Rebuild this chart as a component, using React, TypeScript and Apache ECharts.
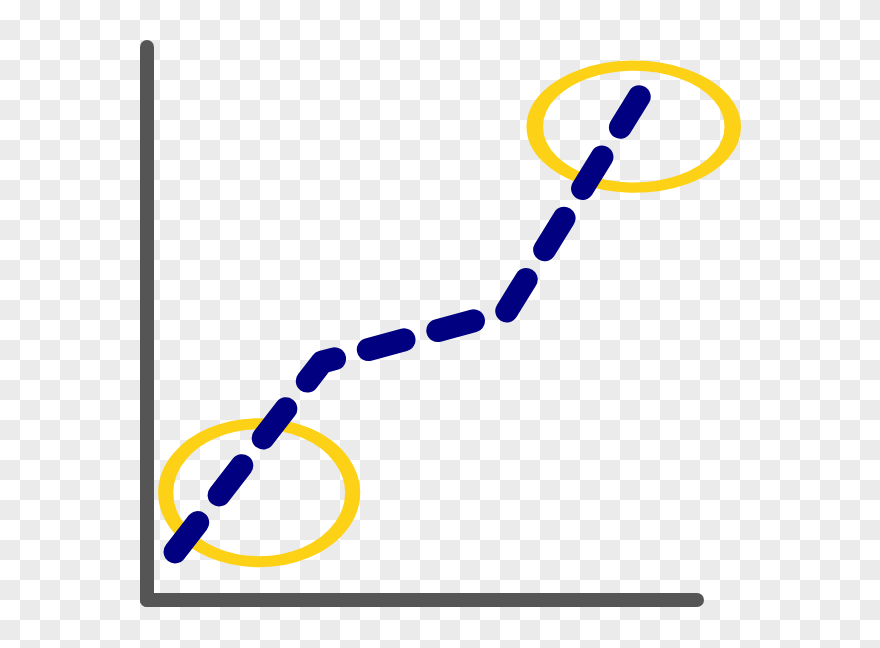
import React, { useEffect, useRef } from "react";
import * as echarts from "echarts";

// trend line, in axis units (0..100 on both axes)
const lineX = [5.1, 31.8, 65.3, 89.5];
const lineY = [8.7, 43.0, 52.1, 91.0];

// highlighted regions (ellipse centres, axis units)
const markX = [20.4, 88.5];
const markY = [19.4, 85.6];
const markSize = [
  [187, 138],
  [198, 122],
];

const App: React.FC = () => {
  const chartRef = useRef<HTMLDivElement>(null);

  useEffect(() => {
    if (!chartRef.current) return;
    const chart = echarts.init(chartRef.current, null, { renderer: "svg" });

    const axisLine = {
      show: true,
      onZero: false,
      lineStyle: { color: "#555555", width: 14, cap: "round" },
    };

    chart.setOption({
      animation: false,
      grid: { left: 147, right: 183, top: 47, bottom: 48 },
      xAxis: {
        type: "value",
        min: 0,
        max: 100,
        axisLine,
        axisTick: { show: false },
        axisLabel: { show: false },
        splitLine: { show: false },
      },
      yAxis: {
        type: "value",
        min: 0,
        max: 100,
        axisLine,
        axisTick: { show: false },
        axisLabel: { show: false },
        splitLine: { show: false },
      },
      series: [
        {
          type: "line",
          data: lineX.map((x, i) => [x, lineY[i]]),
          showSymbol: false,
          lineStyle: {
            color: "#000080",
            width: 23,
            type: [37, 35],
            cap: "round",
            join: "round",
          },
        },
        {
          type: "scatter",
          data: markX.map((x, i) => ({
            value: [x, markY[i]],
            symbolSize: markSize[i],
          })),
          symbol: "circle",
          itemStyle: {
            color: "rgba(0,0,0,0)",
            borderColor: "#fdd116",
            borderWidth: 13,
            opacity: 1,
          },
        },
      ],
    });

    return () => chart.dispose();
  }, []);

  return (
    <div
      ref={chartRef}
      style={{
        position: "absolute",
        left: 0,
        top: 0,
        width: 880,
        height: 648,
        background:
          "repeating-conic-gradient(#ebebeb 0 25%, #ffffff 0 50%) 0 0 / 40px 40px",
      }}
    />
  );
};

export default App;
